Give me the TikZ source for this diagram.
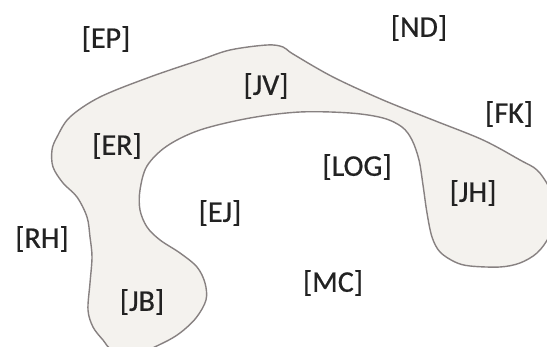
\documentclass[tikz,border=0pt]{standalone}
\usepackage{fontspec}
\setmainfont{Carlito}
\newfontfamily\lblfont[FakeBold=0.6]{Carlito}
\definecolor{blobfill}{HTML}{F4F2EE}
\definecolor{blobline}{HTML}{878181}
\definecolor{labeltext}{HTML}{222222}
\begin{document}
\begin{tikzpicture}[x=1pt,y=-1pt,
  lbl/.style={font=\lblfont\fontsize{30}{32}\selectfont, text=labeltext, inner sep=0pt}]
\useasboundingbox (0,0) rectangle (547,347);
\fill[white] (0,0) rectangle (547,347);
\begin{scope}
\clip (0,0) rectangle (547,347);
\draw[blobline, fill=blobfill, line width=1.4pt, line join=round]
  plot[smooth cycle, tension=0.55] coordinates {
  (283,47) (293,54) (333,77) (383,100) (433,120) (483,140) (520,160) (537,170)
  (549,187) (560,212) (549,237) (537,253) (520,263) (500,267) (470,266) (455,262)
  (440,252) (432,237) (427,213) (423,185) (419,160) (412,140) (402,127) (383,118)
  (350,113) (300,112) (250,118) (200,130) (167,146) (147,166) (140,190) (140,210)
  (147,227) (160,240) (180,253) (197,267) (205,283) (206,300) (196,318) (180,333)
  (163,343) (140,352) (113,350) (103,340) (93,327) (88,310) (90,283) (92,257)
  (90,237) (87,217) (77,197) (63,183) (53,167) (52,150) (57,137) (70,117)
  (100,97) (150,77) (200,60) (230,50) (267,45)};
\end{scope}
\node[lbl] (EP)  at (106,39)  {[EP]};
\node[lbl] (ND)  at (419,28)  {[ND]};
\node[lbl] (JV)  at (266,86)  {[JV]};
\node[lbl] (FK)  at (509,114) {[FK]};
\node[lbl] (ER)  at (117,146) {[ER]};
\node[lbl] (LOG) at (357,167) {[LOG]};
\node[lbl] (JH)  at (473,193) {[JH]};
\node[lbl] (EJ)  at (220,213) {[EJ]};
\node[lbl] (RH)  at (42,239)  {[RH]};
\node[lbl] (MC)  at (333,283) {[MC]};
\node[lbl] (JB)  at (142,302) {[JB]};
\end{tikzpicture}
\end{document}
